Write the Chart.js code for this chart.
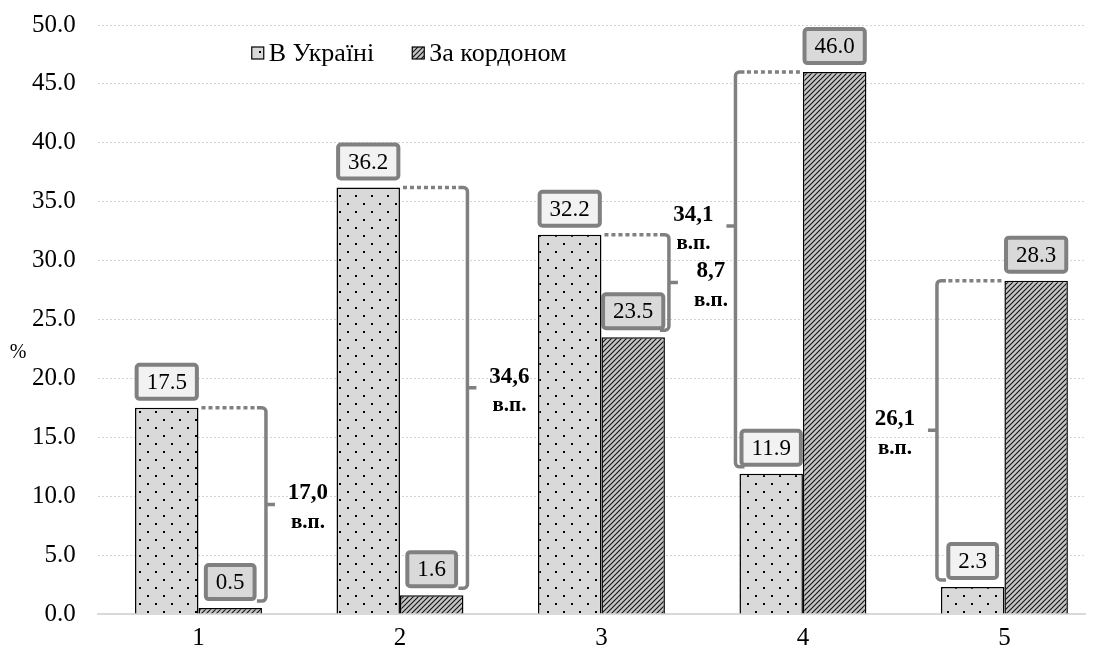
<!DOCTYPE html>
<html lang="uk">
<head>
<meta charset="utf-8">
<title>В Україні / За кордоном</title>
<script src="https://cdn.jsdelivr.net/npm/chart.js@4.4.1/dist/chart.umd.min.js"></script>
<style>
  html, body { margin: 0; padding: 0; background: #fff; }
  #wrap { width: 1095px; height: 650px; font-family: "Liberation Serif", "DejaVu Serif", serif; }
</style>
</head>
<body>
<div id="wrap"><canvas id="chart" width="1095" height="650"></canvas></div>
<script>
// ── data ────────────────────────────────────────────────────────────────
const CATEGORIES   = ['1', '2', '3', '4', '5'];
const SERIES_NAMES = ['В Україні', 'За кордоном'];
const IN_UKRAINE   = [17.5, 36.2, 32.2, 11.9, 2.3];
const ABROAD       = [0.5, 1.6, 23.5, 46.0, 28.3];
const GAP_LABELS   = ['17,0', '34,6', '8,7', '34,1', '26,1'];
const GAP_UNIT     = 'в.п.';
const Y_TITLE      = '%';

// ── look ────────────────────────────────────────────────────────────────
const FONT = '"Liberation Serif", Tinos, "DejaVu Serif", serif';
const GREY = '#808080';
const LABEL_FILLS = ['#f2f2f2', '#d9d9d9'];
// brace tick position as a share of the brace height (4th one sits higher in the original)
const BRACE_TICK_AT = [0.5, 0.5, 0.5, 0.39, 0.5];

function dotPattern() {
  const c = document.createElement('canvas');
  c.width = 16; c.height = 16;
  const g = c.getContext('2d');
  g.fillStyle = '#d9d9d9';
  g.fillRect(0, 0, 16, 16);
  g.fillStyle = '#000';
  g.fillRect(3, 3, 2, 2);
  g.fillRect(11, 11, 2, 2);
  return g.createPattern(c, 'repeat');
}

function hatchPattern() {
  const s = 5;
  const c = document.createElement('canvas');
  c.width = s; c.height = s;
  const g = c.getContext('2d');
  g.fillStyle = '#c4c4c4';
  g.fillRect(0, 0, s, s);
  g.strokeStyle = '#111';
  g.lineWidth = 1.1;
  g.beginPath();
  g.moveTo(0, s); g.lineTo(s, 0);
  g.moveTo(-1, 1); g.lineTo(1, -1);
  g.moveTo(s - 1, s + 1); g.lineTo(s + 1, s - 1);
  g.stroke();
  return g.createPattern(c, 'repeat');
}

const FILLS = [dotPattern(), hatchPattern()];

function valueBox(ctx, x, yBottom, text, fill) {
  ctx.font = `23px ${FONT}`;
  const w = ctx.measureText(text).width + 24;
  const h = 38;
  const left = x - w / 2, top = yBottom - h;
  ctx.beginPath();
  ctx.roundRect(left + 2, top + 2, w - 4, h - 4, 3);
  ctx.fillStyle = fill;
  ctx.fill();
  ctx.lineWidth = 4;
  ctx.strokeStyle = GREY;
  ctx.stroke();
  ctx.fillStyle = '#000';
  ctx.textAlign = 'center';
  ctx.textBaseline = 'middle';
  ctx.fillText(text, x, top + h / 2 + 1);
}

// braces showing the gap between the two bars of each group
const gapBraces = {
  id: 'gapBraces',
  afterDatasetsDraw(chart) {
    const ctx = chart.ctx;
    const m0 = chart.getDatasetMeta(0).data;
    const m1 = chart.getDatasetMeta(1).data;
    ctx.save();
    ctx.strokeStyle = GREY;
    ctx.lineWidth = 3.5;
    CATEGORIES.forEach((_, i) => {
      const a = m0[i], b = m1[i];
      const ukrTaller = IN_UKRAINE[i] >= ABROAD[i];
      const tall = ukrTaller ? a : b;
      const low = ukrTaller ? b : a;
      const dir = ukrTaller ? 1 : -1;
      const bx = ukrTaller ? b.x + b.width / 2 + 4 : a.x - a.width / 2 - 4;
      const top = tall.y;
      const bottom = low.y - 7;
      const edge = tall.x + dir * tall.width / 2;
      const r = 4;

      ctx.setLineDash([4, 3]);
      ctx.beginPath();
      ctx.moveTo(edge + dir * 3, top);
      ctx.lineTo(bx - dir * 9, top);
      ctx.stroke();

      ctx.setLineDash([]);
      ctx.beginPath();
      ctx.moveTo(bx - dir * 9, top);
      ctx.arcTo(bx, top, bx, top + r, r);
      ctx.lineTo(bx, bottom - r);
      ctx.arcTo(bx, bottom, bx - dir * 9, bottom, r);
      ctx.lineTo(bx - dir * 9, bottom);
      const ty = top + (bottom - top) * BRACE_TICK_AT[i];
      ctx.moveTo(bx, ty);
      ctx.lineTo(bx + dir * 9, ty);
      ctx.stroke();

      const tx = bx + dir * 42;
      ctx.fillStyle = '#000';
      ctx.textAlign = 'center';
      ctx.textBaseline = 'middle';
      ctx.font = `bold 23px ${FONT}`;
      ctx.fillText(GAP_LABELS[i], tx, ty - 11);
      ctx.font = `bold 21px ${FONT}`;
      ctx.fillText(GAP_UNIT, tx, ty + 18);
    });

    [m0, m1].forEach((bars, d) => {
      const values = d === 0 ? IN_UKRAINE : ABROAD;
      bars.forEach((bar, i) => valueBox(ctx, bar.x, bar.y - 7, values[i].toFixed(1), LABEL_FILLS[d]));
    });
    ctx.restore();
  },
  afterDraw(chart) {
    const ctx = chart.ctx;
    const area = chart.chartArea;
    ctx.save();
    // legend, inside the plot area
    ctx.font = `26px ${FONT}`;
    ctx.textBaseline = 'middle';
    ctx.textAlign = 'left';
    let x = area.left + 154;
    const y = area.top + 28;
    SERIES_NAMES.forEach((name, d) => {
      ctx.fillStyle = FILLS[d];
      ctx.fillRect(x, y - 6, 12, 12);
      ctx.strokeStyle = '#000';
      ctx.lineWidth = 1.2;
      ctx.strokeRect(x, y - 6, 12, 12);
      ctx.fillStyle = '#000';
      ctx.fillText(name, x + 17, y + 1);
      x += 17 + ctx.measureText(name).width + 38;
    });
    // y title, horizontal
    ctx.font = `20px ${FONT}`;
    ctx.textAlign = 'center';
    ctx.fillText(Y_TITLE, 18, chart.scales.y.getPixelForValue(22.2));
    ctx.restore();
  }
};

function build() {
  new Chart(document.getElementById('chart'), {
    type: 'bar',
    data: {
      datasets: [IN_UKRAINE, ABROAD].map((values, d) => ({
        label: SERIES_NAMES[d],
        data: values.map((v, i) => ({ x: i + 1, y: v })),
        backgroundColor: FILLS[d],
        borderColor: '#000',
        borderWidth: 1.5,
        barPercentage: 1,
        categoryPercentage: 0.63,
      })),
    },
    options: {
      responsive: false,
      animation: false,
      layout: { padding: { left: 10, right: 10, top: 25, bottom: -12 } },
      scales: {
        x: {
          type: 'linear',
          min: 0.5,
          max: 5.4,
          offset: false,
          afterBuildTicks: s => { s.ticks = CATEGORIES.map((_, i) => ({ value: i + 1 })); },
          grid: { display: false, drawTicks: false },
          border: { display: true, color: '#d9d9d9', width: 2 },
          ticks: {
            autoSkip: false,
            maxRotation: 0,
            padding: 9,
            color: '#000',
            font: { family: FONT, size: 25 },
            callback: v => CATEGORIES[v - 1],
          },
        },
        y: {
          min: 0,
          max: 50,
          // keep the plot top/bottom where the layout padding puts them
          afterFit: s => { s.paddingTop = 0; s.paddingBottom = 0; },
          grid: { color: '#d4d4d4', lineWidth: 1, drawTicks: false },
          border: { display: false, dash: [2, 2] },
          ticks: {
            stepSize: 5,
            padding: 22,
            color: '#000',
            font: { family: FONT, size: 25 },
            callback: v => v.toFixed(1),
          },
        },
      },
      plugins: {
        legend: { display: false },
        tooltip: { enabled: false },
      },
    },
    plugins: [gapBraces],
  });
}

// make sure the serif face is ready before the canvas draws text
Promise.all([
  document.fonts.load('25px "Liberation Serif"'),
  document.fonts.load('bold 23px "Liberation Serif"'),
]).catch(() => {}).then(build);
</script>
</body>
</html>
